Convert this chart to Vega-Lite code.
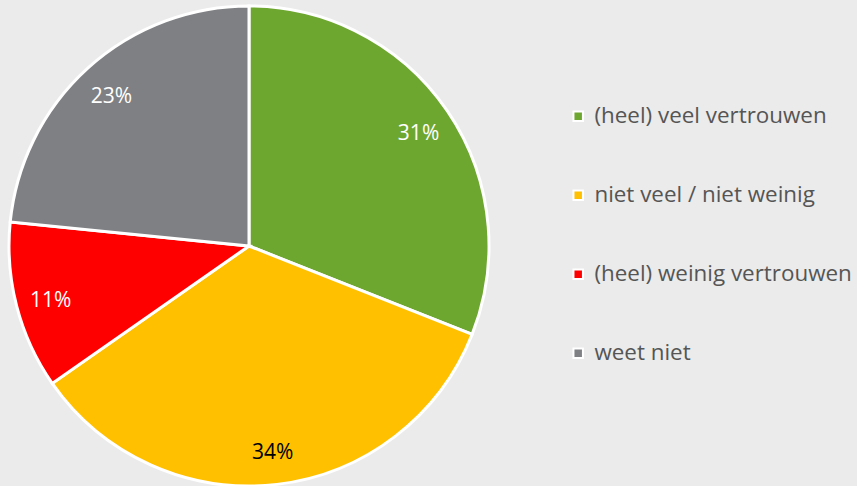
{
  "$schema": "https://vega.github.io/schema/vega-lite/v6.json",
  "width": 498,
  "height": 488,
  "padding": {"left": 0, "top": 0, "right": 10, "bottom": 0},
  "background": "#ebebeb",
  "config": {"view": {"stroke": null}, "font": "Open Sans"},
  "data": {"values": [
    {"cat": "(heel) veel vertrouwen", "value": 31.0, "order": 1, "label": "31%"},
    {"cat": "niet veel / niet weinig", "value": 34.3, "order": 2, "label": "34%"},
    {"cat": "(heel) weinig vertrouwen", "value": 11.3, "order": 3, "label": "11%"},
    {"cat": "weet niet", "value": 23.4, "order": 4, "label": "23%"}
  ]},
  "encoding": {
    "theta": {"field": "value", "type": "quantitative", "stack": true},
    "order": {"field": "order", "type": "quantitative"},
    "color": {
      "field": "cat", "type": "nominal",
      "scale": {
        "domain": ["(heel) veel vertrouwen", "niet veel / niet weinig", "(heel) weinig vertrouwen", "weet niet"],
        "range": ["#6ea72f", "#ffc000", "#ff0000", "#7f8084"]
      },
      "legend": {
        "title": null,
        "orient": "none",
        "legendX": 567,
        "legendY": 103,
        "symbolType": "square",
        "symbolSize": 90,
        "symbolStrokeColor": "white",
        "symbolStrokeWidth": 2,
        "symbolOpacity": 1,
        "labelFontSize": 22.4,
        "labelColor": "#555555",
        "labelFont": "Open Sans",
        "rowPadding": 56,
        "labelOffset": 5,
        "labelLimit": 400
      }
    }
  },
  "layer": [
    {"mark": {"type": "arc", "outerRadius": 240, "stroke": "white", "strokeWidth": 3}},
    {
      "mark": {"type": "text", "radius": 205, "fontSize": 21, "font": "Open Sans", "dy": 3},
      "encoding": {
        "text": {"field": "label", "type": "nominal"},
        "fill": {"condition": {"test": "datum.cat === 'niet veel / niet weinig'", "value": "#000000"}, "value": "#ffffff"}
      }
    }
  ]
}
